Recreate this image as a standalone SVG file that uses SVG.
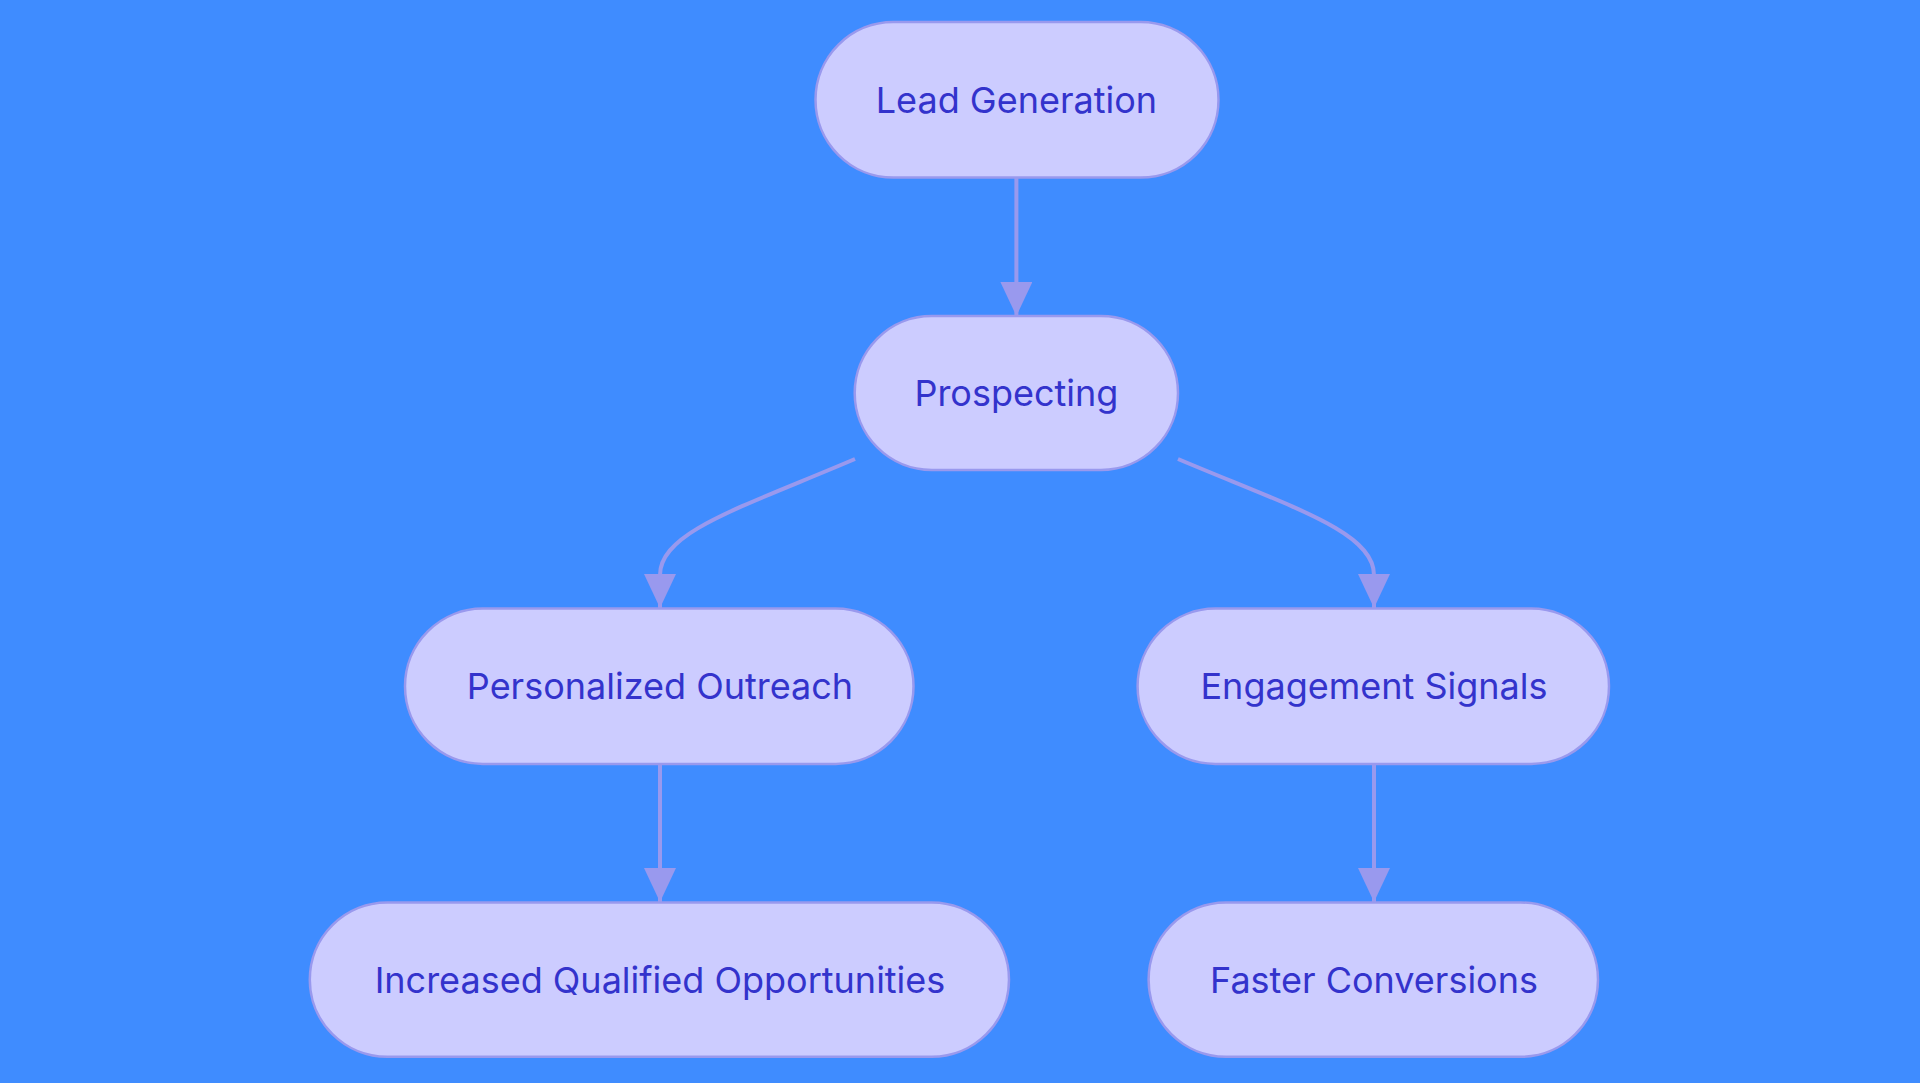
<svg xmlns="http://www.w3.org/2000/svg" width="1920" height="1083" viewBox="0 0 1920 1083">
<style>
.n{fill:#ccccff;stroke:#9999ee;stroke-width:2.5}
.t{font-family:Inter,"Open Sans",sans-serif;font-size:36px;fill:#3333cc;text-anchor:middle;dominant-baseline:central}
.e{fill:none;stroke:#9999ee;stroke-width:4}
</style>
<defs><marker id="a" viewBox="0 0 10 10" refX="10" refY="5" markerUnits="userSpaceOnUse" markerWidth="34" markerHeight="32" orient="auto" preserveAspectRatio="none"><path d="M0,0L10,5L0,10z" fill="#9999ee"/></marker></defs>
<rect width="1920" height="1083" fill="#3f8cff"/>
<g id="edges">
<path class="e" d="M1016.4,178V316" marker-end="url(#a)"/>
<path class="e" d="M855,459C740,508 660,532 660,575V608" marker-end="url(#a)"/>
<path class="e" d="M1178,459C1294,508 1374,532 1374,575V608" marker-end="url(#a)"/>
<path class="e" d="M660,764V902" marker-end="url(#a)"/>
<path class="e" d="M1374,764V902" marker-end="url(#a)"/>
</g>
<g id="lead"><rect class="n" x="815.5" y="22" width="403" height="155.6" rx="77.8"/><text class="t" x="1016.4" y="99.8">Lead Generation</text></g>
<g id="prospecting"><rect class="n" x="854.7" y="316" width="323.3" height="154" rx="77"/><text class="t" x="1016.4" y="393">Prospecting</text></g>
<g id="outreach"><rect class="n" x="405" y="608.6" width="508.5" height="155.4" rx="77.7"/><text class="t" x="660" y="686.3">Personalized Outreach</text></g>
<g id="signals"><rect class="n" x="1137.6" y="608.6" width="471.4" height="155.4" rx="77.7"/><text class="t" x="1374" y="686.3">Engagement Signals</text></g>
<g id="opps"><rect class="n" x="309.8" y="902.5" width="699.2" height="154.3" rx="77.2"/><text class="t" x="660" y="979.6">Increased Qualified Opportunities</text></g>
<g id="faster"><rect class="n" x="1148.6" y="902.5" width="449.4" height="154.3" rx="77.2"/><text class="t" x="1374" y="979.6">Faster Conversions</text></g>
</svg>
